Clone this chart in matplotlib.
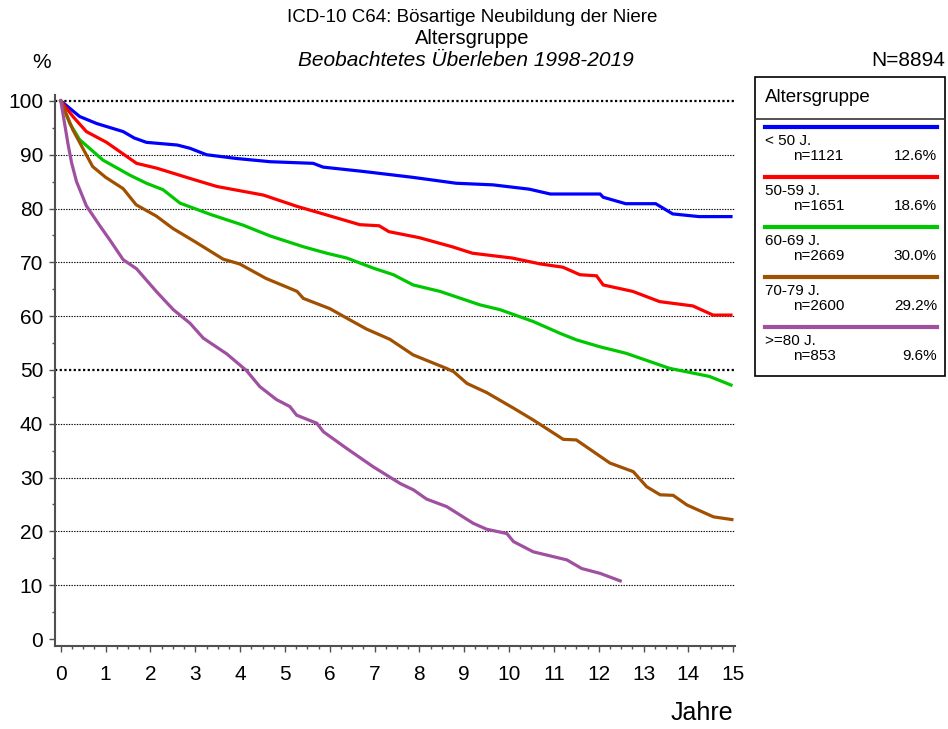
import matplotlib
matplotlib.use("Agg")
import matplotlib.pyplot as plt
from matplotlib.lines import Line2D
from matplotlib.patches import Rectangle
from matplotlib.ticker import MultipleLocator

plt.rcParams['font.family'] = ['Liberation Sans', 'DejaVu Sans']

# survival curves (years, percent)
blue_t = [0, 0.42, 0.8, 1.39, 1.64, 1.91, 2.6, 2.88, 3.25, 3.92, 4.67, 5.63, 5.85, 6.74,
          7.85, 8.82, 9.64, 10.45, 10.92, 12.03, 12.1, 12.6, 13.27, 13.65, 14.24, 14.95]
blue_v = [100, 97.1, 95.8, 94.3, 93.1, 92.3, 91.8, 91.2, 90.0, 89.3, 88.7, 88.4, 87.7, 86.9,
          85.8, 84.7, 84.4, 83.6, 82.7, 82.7, 82.1, 80.9, 80.9, 79.0, 78.5, 78.5]

red_t = [0, 0.27, 0.57, 1.02, 1.69, 2.14, 2.88, 3.48, 4.52, 5.27, 5.85, 6.67, 7.1, 7.32,
         7.99, 8.73, 9.18, 10.07, 10.7, 11.2, 11.58, 11.95, 12.1, 12.76, 13.36, 14.1, 14.55, 14.95]
red_v = [100, 97.1, 94.3, 92.3, 88.4, 87.5, 85.6, 84.1, 82.5, 80.4, 79.0, 77.0, 76.8, 75.7,
         74.6, 72.9, 71.7, 70.8, 69.7, 69.1, 67.7, 67.5, 65.8, 64.6, 62.7, 61.9, 60.2, 60.2]

green_t = [0, 0.2, 0.42, 0.94, 1.54, 1.91, 2.28, 2.66, 3.34, 4.07, 4.67, 5.41, 5.93, 6.38,
           6.98, 7.42, 7.86, 8.46, 9.35, 9.8, 10.54, 11.14, 11.5, 12.03, 12.61, 13.58, 14.47, 14.95]
green_v = [100, 95.8, 92.8, 89.0, 86.2, 84.7, 83.5, 81.0, 78.9, 76.9, 74.9, 72.9, 71.7, 70.8,
           68.9, 67.7, 65.8, 64.6, 62.1, 61.2, 59.0, 56.8, 55.6, 54.3, 53.1, 50.3, 48.8, 47.2]

brown_t = [0, 0.27, 0.71, 1.0, 1.39, 1.68, 2.13, 2.5, 3.02, 3.62, 3.99, 4.58, 5.1, 5.27, 5.41,
           6.0, 6.45, 6.82, 7.34, 7.86, 8.6, 8.76, 9.06, 9.5, 10.1, 10.54, 11.21, 11.5, 12.25,
           12.77, 13.07, 13.37, 13.66, 13.97, 14.56, 14.97]
brown_v = [100, 94.6, 87.8, 85.8, 83.7, 80.7, 78.6, 76.3, 73.7, 70.6, 69.7, 67.0, 65.2, 64.6, 63.3,
           61.4, 59.3, 57.6, 55.7, 52.8, 50.3, 49.7, 47.5, 45.8, 42.9, 40.7, 37.1, 37.0, 32.7,
           31.1, 28.3, 26.8, 26.7, 24.9, 22.7, 22.2]

purple_t = [0, 0.08, 0.16, 0.24, 0.35, 0.57, 0.87, 1.09, 1.39, 1.69, 2.14, 2.51, 2.88, 3.18, 3.7,
            4.14, 4.44, 4.81, 5.11, 5.26, 5.71, 5.86, 6.38, 6.97, 7.57, 7.87, 8.16, 8.61, 9.2,
            9.5, 9.95, 10.1, 10.54, 11.29, 11.62, 12.03, 12.48]
purple_v = [100, 96.0, 92.0, 88.5, 85.0, 80.5, 76.8, 74.2, 70.5, 68.8, 64.5, 61.2, 58.7, 55.9, 53.0,
            49.9, 46.9, 44.5, 43.2, 41.6, 40.1, 38.5, 35.4, 32.0, 28.9, 27.7, 26.0, 24.6, 21.5,
            20.4, 19.6, 18.1, 16.2, 14.7, 13.1, 12.2, 10.8]

groups = ["< 50 J.", "50-59 J.", "60-69 J.", "70-79 J.", ">=80 J."]
counts = ["n=1121", "n=1651", "n=2669", "n=2600", "n=853"]
shares = ["12.6%", "18.6%", "30.0%", "29.2%", "9.6%"]
colors = ["#0000FF", "#FF0000", "#00C800", "#A05000", "#A050A0"]
curves = [(blue_t, blue_v), (red_t, red_v), (green_t, green_v),
          (brown_t, brown_v), (purple_t, purple_v)]

W, H = 948, 729
fig = plt.figure(figsize=(W / 100, H / 100), dpi=100)


def fp(x, y):
    # pixel position -> figure fraction
    return x / W, 1 - y / H


ax = fig.add_axes([55 / W, 1 - 646 / H, (735 - 55) / W, (646 - 95) / H])
ax.set_xlim(-0.13, 15.04)
ax.set_ylim(-1.3, 101.1)

# dotted reference lines
for yv in range(10, 101, 10):
    if yv in (50, 100):
        ax.axhline(yv, color='black', lw=1.6, ls=(0, (1, 1.1)), zorder=1)
    else:
        ax.axhline(yv, color='black', lw=0.8, ls=(0, (1.2, 1.2)), zorder=1)

for (t, v), c in zip(curves, colors):
    ax.plot(t, v, color=c, lw=2.3, zorder=3, solid_joinstyle='miter')

for s in ['top', 'right']:
    ax.spines[s].set_visible(False)
for s in ['left', 'bottom']:
    ax.spines[s].set_color('#505050')
    ax.spines[s].set_linewidth(1.5)

ax.xaxis.set_major_locator(MultipleLocator(1))
ax.xaxis.set_minor_locator(MultipleLocator(0.25))
ax.yaxis.set_major_locator(MultipleLocator(10))
ax.yaxis.set_minor_locator(MultipleLocator(5))
ax.tick_params(which='major', length=4.5, width=1.0, color='#505050', labelsize=15, pad=4)
ax.tick_params(which='minor', length=2.5, width=1.0, color='#505050')
ax.tick_params(axis='x', which='major', pad=9)
ax.set_xticks(range(0, 16))
ax.set_yticks(range(0, 101, 10))

# titles
fig.text(*fp(472, 17), "ICD-10 C64: Bösartige Neubildung der Niere", ha='center', va='center', fontsize=13.5)
fig.text(*fp(472, 39), "Altersgruppe", ha='center', va='center', fontsize=14.5)
fig.text(*fp(466, 61), "Beobachtetes Überleben 1998-2019", ha='center', va='center',
         fontsize=15, style='italic')
fig.text(*fp(42, 62), "%", ha='center', va='center', fontsize=15)
fig.text(*fp(945, 61), "N=8894", ha='right', va='center', fontsize=15)
fig.text(*fp(733, 713), "Jahre", ha='right', va='center', fontsize=18)

# legend box
x0, y0, x1, y1 = 755, 77, 945, 376
fig.add_artist(Rectangle(fp(x0, y1), (x1 - x0) / W, (y1 - y0) / H, transform=fig.transFigure,
                         fill=False, edgecolor='black', lw=1.2))
fig.add_artist(Line2D([x0 / W, x1 / W], [1 - 119 / H] * 2, transform=fig.transFigure,
                      color='#333333', lw=1.2))
fig.text(*fp(765, 97), "Altersgruppe", ha='left', va='center', fontsize=13.5)
for i, (g, n, p, c) in enumerate(zip(groups, counts, shares, colors)):
    yl = 127 + 50 * i
    fig.add_artist(Line2D([765 / W, 937 / W], [1 - yl / H] * 2, transform=fig.transFigure,
                          color=c, lw=3))
    fig.text(*fp(765, yl + 14), g, ha='left', va='center', fontsize=11)
    fig.text(*fp(793, yl + 29), n, ha='left', va='center', fontsize=11)
    fig.text(*fp(937, yl + 29), p, ha='right', va='center', fontsize=11)

fig.savefig("out.png", dpi=100)
